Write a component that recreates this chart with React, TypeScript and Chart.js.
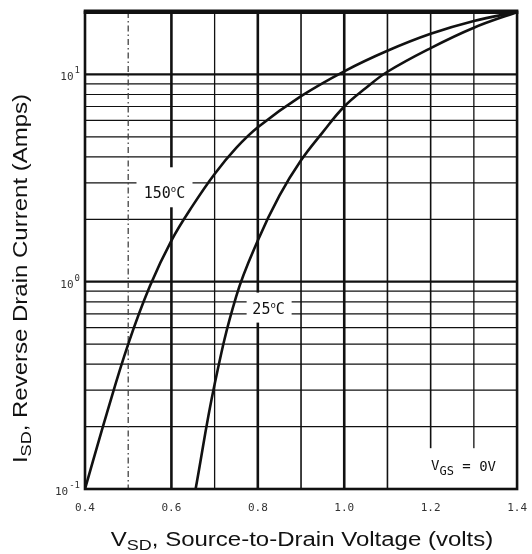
import React, { useEffect, useRef } from "react";
import { Chart, registerables } from "chart.js";

Chart.register(...registerables);

// ---- data ----
const v150 = [0.40, 0.45, 0.50, 0.55, 0.60, 0.65, 0.70, 0.75, 0.80, 0.90, 1.00, 1.10, 1.20, 1.30, 1.40];
const i150 = [0.10, 0.23, 0.50, 0.95, 1.58, 2.34, 3.31, 4.42, 5.56, 7.85, 10.35, 13.0, 15.7, 18.1, 20.0];

const v25 = [0.656, 0.70, 0.75, 0.80, 0.85, 0.90, 0.95, 1.00, 1.05, 1.10, 1.20, 1.30, 1.40];
const i25 = [0.10, 0.32, 0.85, 1.58, 2.6, 3.85, 5.25, 7.0, 8.6, 10.3, 13.4, 16.8, 20.0];

const xTicks = [0.4, 0.5, 0.6, 0.7, 0.8, 0.9, 1.0, 1.1, 1.2, 1.3, 1.4];
const xLabeled = [0.4, 0.6, 0.8, 1.0, 1.2, 1.4];
const xThick = [0.6, 0.8, 1.0];
const xMedium = [0.9, 1.1, 1.2];
const yGrid = [0.2, 0.3, 0.4, 0.5, 0.6, 0.7, 0.8, 0.9, 1, 2, 3, 4, 5, 6, 7, 8, 9, 10];
const yDecades = [0.1, 1, 10];
const yExponents = ["-1", "0", "1"];

const seriesNames = ["150", "25"];
const labelAt150 = [0.584, 2.7];
const labelAt25 = [0.825, 0.75];
const labelAtVgs = [1.276, 0.126];

const Y_MIN = 0.1;
const Y_MAX = 20;
const X_MIN = 0.4;
const X_MAX = 1.4;

const TITLE_FONT = '"Liberation Sans", Arial, sans-serif';
const MONO = '"DejaVu Sans Mono", monospace';

function isSame(a: number, b: number) {
  return Math.abs(a - b) < 1e-6;
}

function drawDegLabel(ctx: CanvasRenderingContext2D, num: string, cx: number, cy: number) {
  ctx.save();
  ctx.fillStyle = "#111";
  ctx.textBaseline = "alphabetic";
  ctx.textAlign = "left";
  const big = `15px ${MONO}`;
  const small = `9px ${MONO}`;
  ctx.font = big;
  const wNum = ctx.measureText(num).width;
  const wC = ctx.measureText("C").width;
  ctx.font = small;
  const wO = ctx.measureText("o").width;
  const total = wNum + wO + wC;
  let x = cx - total / 2;
  const base = cy + 6;
  ctx.font = big;
  ctx.fillText(num, x, base);
  x += wNum;
  ctx.font = small;
  ctx.fillText("o", x, base - 6);
  x += wO;
  ctx.font = big;
  ctx.fillText("C", x, base);
  ctx.restore();
}

const paperPlugin = {
  id: "paper",
  beforeDatasetsDraw(chart: any) {
    const { ctx, chartArea, scales } = chart;
    const { left, right, top, bottom } = chartArea;
    const xs = scales.x;
    const ys = scales.y;
    ctx.save();
    ctx.strokeStyle = "#111";
    for (const v of yGrid) {
      const py = ys.getPixelForValue(v);
      const major = yDecades.some((d) => isSame(d, v));
      ctx.lineWidth = major ? 2.2 : 1.2;
      ctx.beginPath();
      ctx.moveTo(left, py);
      ctx.lineTo(right, py);
      ctx.stroke();
    }
    for (const v of xTicks) {
      if (isSame(v, X_MIN) || isSame(v, X_MAX)) continue;
      const px = xs.getPixelForValue(v);
      const r = Math.round(v * 10);
      const thick = xThick.some((t) => isSame(t, v));
      const medium = xMedium.some((t) => isSame(t, v));
      ctx.lineWidth = thick ? 2.6 : medium ? 1.6 : 1.3;
      ctx.setLineDash(r === 5 ? [6, 3, 1.5, 3] : []);
      ctx.strokeStyle = r === 5 ? "#444" : "#111";
      ctx.beginPath();
      ctx.moveTo(px, top);
      ctx.lineTo(px, bottom);
      ctx.stroke();
    }
    ctx.setLineDash([]);
    ctx.fillStyle = "#ffffff";
    const p150x = xs.getPixelForValue(labelAt150[0]);
    const p150y = ys.getPixelForValue(labelAt150[1]);
    ctx.fillRect(p150x - 28, p150y - 25, 56, 40);
    const p25x = xs.getPixelForValue(labelAt25[0]);
    const p25y = ys.getPixelForValue(labelAt25[1]);
    ctx.fillRect(p25x - 22, p25y - 15, 45, 30);
    const pvx = xs.getPixelForValue(labelAtVgs[0]);
    const vgsTopY = ys.getPixelForValue(labelAtVgs[1]) - 20;
    ctx.fillRect(pvx - 54, vgsTopY, 104, bottom - vgsTopY);
    ctx.restore();
  },
  afterDatasetsDraw(chart: any) {
    const { ctx, chartArea, scales } = chart;
    const { left, right, top, bottom } = chartArea;
    const xs = scales.x;
    const ys = scales.y;
    ctx.save();
    drawDegLabel(ctx, seriesNames[0], xs.getPixelForValue(labelAt150[0]), ys.getPixelForValue(labelAt150[1]));
    drawDegLabel(ctx, seriesNames[1], xs.getPixelForValue(labelAt25[0]), ys.getPixelForValue(labelAt25[1]));
    {
      const cx = xs.getPixelForValue(labelAtVgs[0]);
      const cy = ys.getPixelForValue(labelAtVgs[1]);
      ctx.fillStyle = "#111";
      ctx.textBaseline = "alphabetic";
      ctx.textAlign = "left";
      const big = `14px ${MONO}`;
      const small = `12px ${MONO}`;
      ctx.font = big;
      const wV = ctx.measureText("V").width;
      const wRest = ctx.measureText(" = 0V").width;
      ctx.font = small;
      const wGS = ctx.measureText("GS").width;
      let x = cx - (wV + wGS + wRest) / 2;
      ctx.font = big;
      ctx.fillText("V", x, cy + 2);
      x += wV;
      ctx.font = small;
      ctx.fillText("GS", x, cy + 7);
      x += wGS;
      ctx.font = big;
      ctx.fillText(" = 0V", x, cy + 3);
    }
    ctx.strokeStyle = "#111";
    ctx.lineWidth = 2.6;
    ctx.strokeRect(left, top, right - left, bottom - top);
    ctx.fillStyle = "#111";
    ctx.fillRect(left - 1.3, top - 2.5, right - left + 2.6, 4.5);
    ctx.fillStyle = "#333";
    yDecades.forEach((d, i) => {
      const py = ys.getPixelForValue(d);
      const exp = yExponents[i];
      ctx.font = `9px ${MONO}`;
      const wE = ctx.measureText(exp).width;
      ctx.font = `11px ${MONO}`;
      const wB = ctx.measureText("10").width;
      const xr = left - 5;
      ctx.textAlign = "left";
      ctx.textBaseline = "alphabetic";
      ctx.fillText("10", xr - wE - wB - 1, py + 6);
      ctx.font = `9px ${MONO}`;
      ctx.fillText(exp, xr - wE, py - 1);
    });
    ctx.restore();
  },
  afterDraw(chart: any) {
    const { ctx, chartArea } = chart;
    const { left, right, top, bottom } = chartArea;
    ctx.save();
    ctx.fillStyle = "#111";
    ctx.textBaseline = "alphabetic";
    ctx.textAlign = "left";
    const big = `20px ${TITLE_FONT}`;
    const small = `15px ${TITLE_FONT}`;
    const sx = 1.2;
    const drawTitle = (head: string, sub: string, rest: string, cx: number, base: number) => {
      ctx.save();
      ctx.font = big;
      const w1 = ctx.measureText(head).width;
      const w3 = ctx.measureText(rest).width;
      ctx.font = small;
      const w2 = ctx.measureText(sub).width;
      const total = w1 + w2 + w3;
      ctx.translate(cx - (total * sx) / 2, base);
      ctx.scale(sx, 1);
      let x = 0;
      ctx.font = big;
      ctx.fillText(head, x, 0);
      x += w1;
      ctx.font = small;
      ctx.fillText(sub, x, 4);
      x += w2;
      ctx.font = big;
      ctx.fillText(rest, x, 0);
      ctx.restore();
    };
    drawTitle("V", "SD", ", Source-to-Drain Voltage (volts)", (left + right) / 2 + 1, bottom + 57);
    ctx.translate(27, (top + bottom) / 2 + 28);
    ctx.rotate(-Math.PI / 2);
    drawTitle("I", "SD", ", Reverse Drain Current (Amps)", 0, 0);
    ctx.restore();
  },
};

export default function App() {
  const ref = useRef<HTMLCanvasElement | null>(null);
  useEffect(() => {
    document.body.style.margin = "0";
    const canvas = ref.current;
    if (!canvas) return;
    const chart = new Chart(canvas, {
      type: "line",
      data: {
        datasets: [
          {
            label: "150°C",
            data: v150.map((v, i) => ({ x: v, y: i150[i] })),
            borderColor: "#111",
            borderWidth: 2.6,
            pointRadius: 0,
            fill: false,
            tension: 0.4,
          },
          {
            label: "25°C",
            data: v25.map((v, i) => ({ x: v, y: i25[i] })),
            borderColor: "#111",
            borderWidth: 2.6,
            pointRadius: 0,
            fill: false,
            tension: 0.4,
          },
        ],
      },
      options: {
        animation: false,
        responsive: false,
        maintainAspectRatio: false,
        devicePixelRatio: 1,
        layout: { padding: { left: 0, right: 12, top: 12, bottom: 0 }, autoPadding: false },
        plugins: { legend: { display: false }, tooltip: { enabled: false } },
        scales: {
          x: {
            type: "linear",
            min: X_MIN,
            max: X_MAX,
            grid: { display: false },
            border: { display: false },
            afterBuildTicks: (s: any) => {
              s.ticks = xTicks.map((v) => ({ value: v }));
            },
            afterFit: (s: any) => {
              s.height = 65;
            },
            ticks: {
              autoSkip: false,
              maxRotation: 0,
              padding: 5,
              color: "#333",
              font: { family: MONO, size: 11 },
              callback: (value: any) => {
                const v = Number(value);
                return xLabeled.some((l) => isSame(l, v)) ? v.toFixed(1) : "";
              },
            },
          },
          y: {
            type: "logarithmic",
            min: Y_MIN,
            max: Y_MAX,
            grid: { display: false },
            border: { display: false },
            ticks: { display: false },
            afterFit: (s: any) => {
              s.width = 85;
            },
          },
        },
      },
      plugins: [paperPlugin],
    } as any);
    return () => chart.destroy();
  }, []);
  return <canvas ref={ref} width={532} height={554} style={{ display: "block" }} />;
}
